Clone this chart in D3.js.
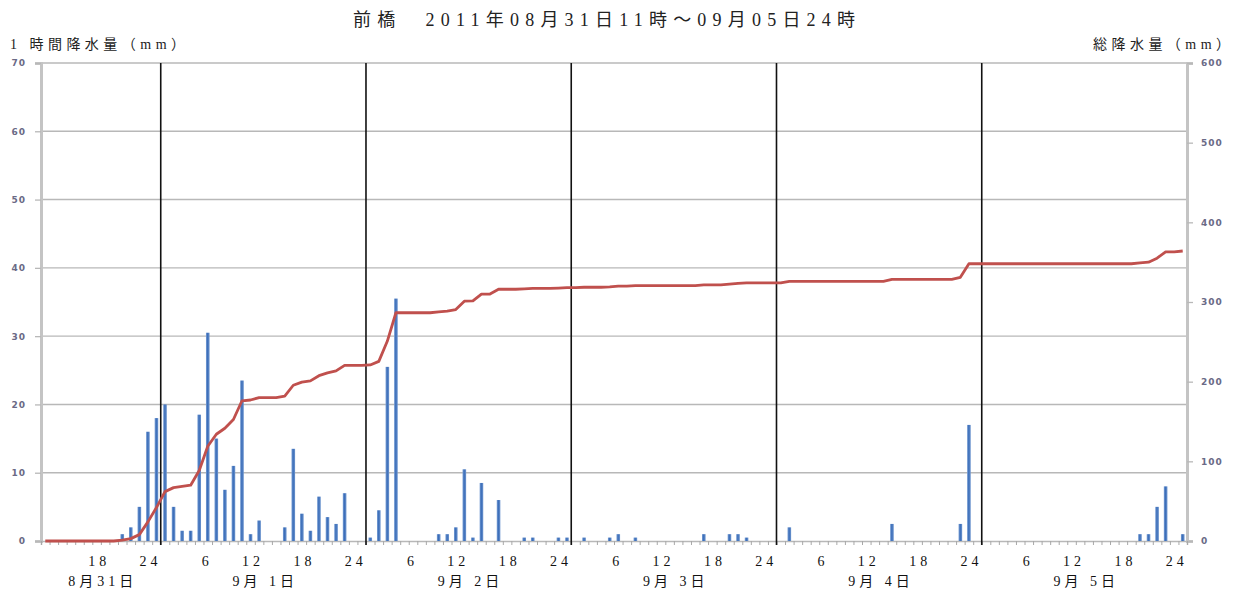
<!DOCTYPE html>
<html>
<head>
<meta charset="utf-8">
<script src="https://cdn.jsdelivr.net/npm/d3@7"></script>
<style>
  body { margin: 0; background: #fff; }
  svg { display: block; }
</style>
</head>
<body>
<svg id="chart" width="1237" height="590"></svg>
<script>
// Hourly precipitation (mm) at Maebashi, one array per day.
// 8/31 starts at 11時; the other days run 1時 .. 24時.
const rain0831 = [0, 0, 0, 0, 0, 0, 0, 0, 0, 1, 2, 5, 16, 18];
const rain0901 = [20, 5, 1.5, 1.5, 18.5, 30.5, 15, 7.5, 11, 23.5, 1, 3, 0, 0, 2, 13.5, 4, 1.5, 6.5, 3.5, 2.5, 7, 0, 0];
const rain0902 = [0.5, 4.5, 25.5, 35.5, 0, 0, 0, 0, 1, 1, 2, 10.5, 0.5, 8.5, 0, 6, 0, 0, 0.5, 0.5, 0, 0, 0.5, 0.5];
const rain0903 = [0, 0.5, 0, 0, 0.5, 1, 0, 0.5, 0, 0, 0, 0, 0, 0, 0, 1, 0, 0, 1, 1, 0.5, 0, 0, 0];
const rain0904 = [0, 2, 0, 0, 0, 0, 0, 0, 0, 0, 0, 0, 0, 2.5, 0, 0, 0, 0, 0, 0, 0, 2.5, 17, 0];
const rain0905 = [0, 0, 0, 0, 0, 0, 0, 0, 0, 0, 0, 0, 0, 0, 0, 0, 0, 0, 1, 1, 5, 8, 0, 1];

const dayNames = ["8月31日", "9月 1日", "9月 2日", "9月 3日", "9月 4日", "9月 5日"];
const dayStartHours = [11, 1, 1, 1, 1, 1];
// hour labels shown under each day (the short first day only gets 18 and 24)
const dayHourLabels = [[18, 24], [6, 12, 18, 24], [6, 12, 18, 24], [6, 12, 18, 24], [6, 12, 18, 24], [6, 12, 18, 24]];
const rainTicks = [0, 10, 20, 30, 40, 50, 60, 70];
const totalTicks = [0, 100, 200, 300, 400, 500, 600];

const titleText = "前橋　2011年08月31日11時～09月05日24時";
const leftTitle = "1 時間降水量（mm）";
const rightTitle = "総降水量（mm）";

// ---- flatten into one hourly series ----
const dayArrays = [rain0831, rain0901, rain0902, rain0903, rain0904, rain0905];
const hours = [];
const dayRanges = [];
dayArrays.forEach((arr, d) => {
  const first = hours.length;
  arr.forEach((v, k) => hours.push({ i: hours.length, day: d, hour: dayStartHours[d] + k, value: v }));
  dayRanges.push({ day: d, first, last: hours.length - 1 });
});
// running total for the line (総降水量)
const totals = Array.from(d3.cumsum(hours, h => h.value));

// ---- layout ----
const svg = d3.select("#chart");
const plot = { left: 41, right: 1187, top: 63, bottom: 541 };

const x = d3.scaleBand()
  .domain(hours.map(h => h.i))
  .range([plot.left, plot.right])
  .paddingInner(0.58)
  .paddingOuter(0.29);
const step = x.step();
const centre = i => x(i) + x.bandwidth() / 2;
const edge = i => plot.left + i * step;

const yRain = d3.scaleLinear().domain([0, 70]).range([plot.bottom, plot.top]);
const yTotal = d3.scaleLinear().domain([0, 600]).range([plot.bottom, plot.top]);

// bar shading
const defs = svg.append("defs");
const grad = defs.append("linearGradient").attr("id", "barFill")
  .attr("x1", "0").attr("x2", "1").attr("y1", "0").attr("y2", "0");
grad.append("stop").attr("offset", "0%").attr("stop-color", "#7aa0d6");
grad.append("stop").attr("offset", "45%").attr("stop-color", "#3b6db8");
grad.append("stop").attr("offset", "100%").attr("stop-color", "#6e96cf");

// horizontal gridlines
svg.append("g")
  .selectAll("line")
  .data(rainTicks.filter(t => t > 0))
  .join("line")
  .attr("x1", plot.left).attr("x2", plot.right)
  .attr("y1", d => yRain(d)).attr("y2", d => yRain(d))
  .attr("stroke", "#b8b8b8").attr("stroke-width", 1.4);

// left value axis
const leftAxis = svg.append("g")
  .attr("transform", `translate(${plot.left},0)`)
  .call(d3.axisLeft(yRain).tickValues(rainTicks).tickSize(6).tickPadding(9));
leftAxis.select(".domain").attr("stroke", "#c4c4c4").attr("stroke-width", 3);
leftAxis.selectAll(".tick line").attr("stroke", "#b8b8b8").attr("stroke-width", 1.3);
leftAxis.selectAll(".tick text")
  .attr("font-family", "DejaVu Sans").attr("font-weight", "bold")
  .attr("font-size", 9).attr("letter-spacing", 1).attr("fill", "#6a6a86");

// right value axis
const rightAxis = svg.append("g")
  .attr("transform", `translate(${plot.right},0)`)
  .call(d3.axisRight(yTotal).tickValues(totalTicks).tickSize(6).tickPadding(8));
rightAxis.select(".domain").attr("stroke", "#c4c4c4").attr("stroke-width", 3);
rightAxis.selectAll(".tick line").attr("stroke", "#b8b8b8").attr("stroke-width", 1.3);
rightAxis.selectAll(".tick text")
  .attr("font-family", "DejaVu Sans").attr("font-weight", "bold")
  .attr("font-size", 9).attr("letter-spacing", 1).attr("fill", "#6a6a86");

// category baseline with a small tick at every hour boundary
const tickScale = d3.scaleLinear().domain([0, hours.length]).range([plot.left, plot.right]);
const baseAxis = svg.append("g")
  .attr("transform", `translate(0,${plot.bottom})`)
  .call(d3.axisBottom(tickScale).tickValues(d3.range(0, hours.length + 1)).tickSize(4).tickFormat(""));
baseAxis.select(".domain").attr("stroke", "#b8b8b8").attr("stroke-width", 1.5);
baseAxis.selectAll(".tick line").attr("stroke", "#a8a8a8").attr("stroke-width", 1);

// hour labels
const labelHours = hours.filter(h => dayHourLabels[h.day].includes(h.hour));
svg.append("g")
  .selectAll("text")
  .data(labelHours)
  .join("text")
  .attr("x", d => centre(d.i) + 5)
  .attr("y", 566)
  .attr("text-anchor", "end")
  .attr("font-family", "Liberation Serif, Noto Sans CJK JP")
  .attr("font-size", 14)
  .attr("letter-spacing", 4)
  .attr("fill", "#111")
  .text(d => d.hour);

// day labels centred under each day
svg.append("g")
  .selectAll("text")
  .data(dayRanges)
  .join("text")
  .attr("x", d => (edge(d.first) + edge(d.last + 1)) / 2 + 2)
  .attr("y", 586)
  .attr("text-anchor", "middle")
  .attr("font-family", "Liberation Serif, Noto Sans CJK JP")
  .attr("font-size", 14)
  .attr("letter-spacing", 4)
  .attr("fill", "#111")
  .text(d => dayNames[d.day]);

// day separators
svg.append("g")
  .selectAll("line")
  .data(dayRanges.slice(1))
  .join("line")
  .attr("x1", d => edge(d.first)).attr("x2", d => edge(d.first))
  .attr("y1", plot.top).attr("y2", plot.bottom + 4)
  .attr("stroke", "#111").attr("stroke-width", 1.6);

// hourly bars
svg.append("g")
  .selectAll("rect")
  .data(hours.filter(h => h.value > 0))
  .join("rect")
  .attr("x", d => x(d.i))
  .attr("width", x.bandwidth())
  .attr("y", d => yRain(d.value))
  .attr("height", d => yRain(0) - yRain(d.value))
  .attr("fill", "url(#barFill)");

// cumulative total line
const line = d3.line()
  .x((d, k) => centre(hours[k].i))
  .y(d => yTotal(d));
svg.append("path")
  .datum(totals)
  .attr("d", line)
  .attr("fill", "none")
  .attr("stroke", "#c0504d")
  .attr("stroke-width", 2.8)
  .attr("stroke-linejoin", "round");

// titles
svg.append("text")
  .attr("x", 353).attr("y", 26)
  .attr("textLength", 502).attr("lengthAdjust", "spacing")
  .attr("font-family", "Liberation Serif, Noto Sans CJK JP")
  .attr("font-size", 18).attr("fill", "#222")
  .text(titleText);

svg.append("text")
  .attr("x", 10).attr("y", 49)
  .attr("textLength", 175).attr("lengthAdjust", "spacing")
  .attr("font-family", "Liberation Serif, Noto Sans CJK JP")
  .attr("font-size", 14).attr("fill", "#222")
  .text(leftTitle);

svg.append("text")
  .attr("x", 1093).attr("y", 49)
  .attr("textLength", 137).attr("lengthAdjust", "spacing")
  .attr("font-family", "Liberation Serif, Noto Sans CJK JP")
  .attr("font-size", 14).attr("fill", "#222")
  .text(rightTitle);
</script>
</body>
</html>
